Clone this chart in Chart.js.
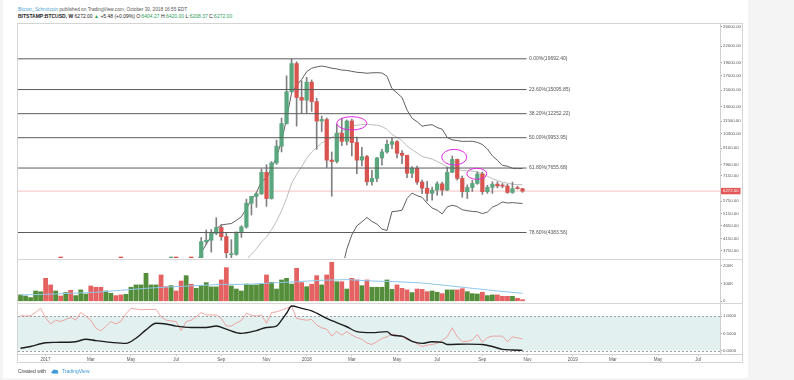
<!DOCTYPE html>
<html><head><meta charset="utf-8">
<script src="https://cdn.jsdelivr.net/npm/chart.js@4.4.0/dist/chart.umd.min.js"></script>
<style>
html,body{margin:0;padding:0;width:794px;height:380px;overflow:hidden;background:#f4f4f4;font-family:"Liberation Sans",Arial,sans-serif;}
.abs{position:absolute;}
#card{left:3px;top:0;width:745px;height:378px;background:#fff;}
.txt{white-space:nowrap;transform-origin:0 0;line-height:1;}
.g{color:#2e9e5b;}
.ln{background:#cfcfcf;}
canvas{position:absolute;}
</style></head><body>
<div id="card" class="abs"></div>
<div class="abs txt" style="left:18px;top:6.8px;font-size:9.5px;transform:scale(0.5);color:#555;">
<span style="color:#4f9fd6">Bitcoin_Schmitcoin</span> published on TradingView.com, October 30, 2018 16:55 EDT</div>
<div class="abs txt" style="left:18px;top:14.2px;font-size:10px;transform:scale(0.5);color:#222;">
<b>BITSTAMP:BTCUSD, W</b> 6272.00 <span class="g">&#9650;</span> +5.48 (+0.09%) O:<span class="g">6404.27</span> H:<span class="g">6420.00</span> L:<span class="g">6208.37</span> C:<span class="g">6272.00</span></div>

<canvas id="cMain" width="727" height="236" style="left:17px;top:23px"></canvas>
<canvas id="cVol" width="727" height="44" style="left:17px;top:260px"></canvas>
<canvas id="cOsc" width="727" height="60" style="left:17px;top:304px"></canvas>

<div class="abs" style="left:17px;top:23px;width:726px;height:340px;border:1px solid #d4d4d4;box-sizing:border-box;"></div>
<div class="abs ln" style="left:720px;top:23px;width:1px;height:331px;"></div>
<div class="abs ln" style="left:17px;top:258.5px;width:726px;height:1.5px;background:#d6d6d6"></div>
<div class="abs ln" style="left:17px;top:302.8px;width:726px;height:1.5px;background:#d6d6d6"></div>
<div class="abs ln" style="left:17px;top:354px;width:726px;height:1px;"></div>

<div class="abs txt" style="left:18px;top:368.5px;font-size:10px;transform:scale(0.5);color:#444;">Created with</div>
<svg class="abs" style="left:51px;top:368px" width="8" height="6" viewBox="0 0 8 6"><path d="M1.5 5.5 C0 5.5 0 3.2 1.6 3.2 C1.8 1.4 4 0.8 4.8 2.2 C6.6 1.6 7.6 3.4 6.8 4.2 C8 4.6 7.4 5.5 6.6 5.5 Z" fill="#3a9ad9"/></svg>
<div class="abs txt" style="left:61.5px;top:368.5px;font-size:10px;transform:scale(0.5);color:#3a9ad9;">TradingView</div>

<script>
// ---------- data (weekly, index 0 = week of 2016-11-28) ----------
const opens  = [729,765,778,790,900,995,905,820,920,915,1010,1000,1050,1170,1260,1240,1060,1040,1080,1200,1260,1250,1420,1700,1780,2050,2200,2520,2660,2600,2460,2520,2500,1930,2750,2730,3230,4050,4100,4350,4580,4230,3620,3630,4400,4600,5650,5990,6120,7380,5880,8000,9250,11250,14800,18900,14100,13770,16100,13600,11500,11650,8200,8100,10350,9650,11500,9550,8200,8450,6800,7000,8350,8800,9400,9620,8700,8550,7320,7640,6780,6430,6150,6330,6680,6330,7380,8250,7000,6240,6470,6700,7270,6240,6480,6660,6560,6550,6200,6410,6404.27];
const highs  = [772,780,795,935,1000,1150,920,930,925,1040,1060,1060,1200,1290,1330,1260,1070,1100,1210,1210,1270,1430,1700,1800,2200,2780,2580,2980,2800,2800,2600,2620,2540,2900,2830,3340,4200,4480,4500,4980,4700,4380,4120,4400,4650,5850,6000,6200,7600,7880,8100,9750,11800,17000,19666,19200,16300,16800,16400,14000,12000,11800,8800,11200,11800,11600,11700,10000,9150,8550,7500,8400,9000,9750,9950,9700,8900,8550,7750,7780,6900,6830,6500,6800,6780,7700,8500,8280,7150,6620,6880,7400,7400,6600,6800,6800,6700,6650,6780,6550,6420];
const lows   = [725,750,768,788,880,880,750,820,880,910,940,990,1050,1150,1120,940,890,1020,1080,1160,1180,1250,1400,1600,1750,1900,2100,2500,2080,2450,2380,2450,1840,1900,2500,2620,3200,3950,3700,4300,4100,2980,3500,3600,4200,4550,5100,5450,6100,5500,5850,7900,8800,11200,14800,11000,12300,12300,12500,9000,10500,7700,6000,8000,9300,9350,8500,7300,7800,6600,6600,6800,7850,8700,9050,8350,7950,7050,7050,6650,6130,5760,5800,6050,6050,6300,7360,6900,5950,5880,6250,6650,6100,6150,6150,6450,6450,6150,6150,6380,6208.37];
const closes = [765,778,790,900,995,905,820,920,915,1010,1000,1050,1170,1230,1240,970,1040,1080,1180,1180,1250,1420,1700,1780,2050,2200,2520,2660,2600,2500,2480,2500,1930,2750,2730,3230,4050,4100,4350,4580,4230,3680,3630,4400,4600,5650,5990,6120,7380,5880,8000,9250,11250,14800,18900,14100,13770,16100,13600,11500,11650,8200,8100,10350,9650,11500,9550,8200,8450,6800,7000,8350,8800,9400,9620,8700,8550,7320,7640,6780,6430,6150,6330,6680,6330,7380,8250,7000,6240,6470,6700,7270,6240,6480,6660,6560,6550,6200,6410,6404.27,6272];
const volumesK = [36,30,21,58,54,129,92,58,30,49,62,32,64,41,86,79,79,58,45,32,36,39,79,92,92,157,92,92,148,82,88,58,114,144,96,73,88,105,81,81,120,189,86,69,58,97,92,92,96,148,107,69,120,129,97,185,105,82,96,144,92,148,219,110,110,69,129,120,88,120,79,79,79,120,67,92,73,64,49,69,67,54,58,51,43,64,64,64,71,54,43,41,51,32,36,36,28,28,28,17,9];
const volMaIdx = [0,5,10,15,20,25,30,35,40,45,50,55,60,65,70,75,80,85,90,95,100];
const volMaK   = [36,39,45,51,62,73,81,88,95,95,103,110,118,122,114,110,103,88,73,58,45];

const bbUpperStart = 35;
const bbUpper = [3348,3684,3961,4249,4531,4679,4711,4738,4868,5026,5405,5817,6193,6826,7010,7618,8443,9626,11736,14661,15653,16462,17613,18157,18364,18509,18357,18157,18047,17865,17818,17671,17529,17476,17380,17447,17468,17422,16937,15218,14657,14091,12646,11769,11432,10995,11087,11139,10870,10710,9975,9766,9709,9639,9649,9651,9559,9387,9027,8503,8183,7838,7778,7635,7620,7622];
const bbMidStart = 44;
const bbMid = [3286,3459,3632,3805,4044,4213,4489,4827,5293,5895,6704,7247,7733,8333,8796,9142,9513,9739,9962,10260,10512,10805,10983,11087,11140,11186,11136,11091,10969,10699,10235,9965,9704,9265,8967,8731,8470,8367,8279,8095,7929,7723,7658,7598,7488,7471,7456,7402,7274,7128,6980,6873,6773,6717,6656,6637,6629];
const bbLowerStart = 64;
const bbLower = [3159,3798,4294,4644,4804,4992,4825,4714,4515,4460,5251,5272,5316,5883,6165,6029,5944,5647,5418,5320,5148,5471,5550,5487,5336,5293,5261,5245,5161,5229,5457,5563,5708,5656,5676,5653,5636];

const oscRed = [1.01,1.00,1.01,1.10,1.22,0.95,0.77,0.88,0.84,0.90,0.96,0.88,1.10,1.00,0.88,0.65,0.57,0.70,0.84,0.77,0.85,1.06,1.22,1.20,1.18,1.19,1.19,1.19,0.98,0.88,0.86,0.84,0.58,0.84,0.88,0.98,1.10,1.03,1.03,1.03,0.93,0.71,0.71,0.80,0.87,1.08,1.02,1.00,1.03,0.79,1.10,1.12,1.17,1.22,1.29,0.93,0.90,0.88,0.90,0.74,0.66,0.62,0.42,0.55,0.45,0.55,0.45,0.38,0.33,0.22,0.18,0.26,0.35,0.40,0.48,0.45,0.40,0.32,0.28,0.20,0.12,0.16,0.18,0.21,0.30,0.40,0.66,0.40,0.26,0.27,0.31,0.47,0.24,0.38,0.42,0.42,0.42,0.26,0.40,0.37,0.34];
const oscBlackIdx = [0,2,5,7,11,13,15,18,21,23,25,27,29,31,34,37,39,41,44,47,49,51,52,53,54,56,58,61,65,67,70,73,74,76,78,80,82,84,85,89,92,94,96,98,100];
const oscBlack    = [0.07,0.12,0.23,0.24,0.26,0.33,0.29,0.24,0.21,0.36,0.60,0.79,0.77,0.71,0.67,0.67,0.71,0.62,0.50,0.58,0.67,0.71,0.88,1.08,1.29,1.22,1.15,0.93,0.69,0.55,0.52,0.55,0.45,0.42,0.27,0.21,0.26,0.24,0.18,0.19,0.18,0.12,0.04,0.02,0.01];
const oscBandHigh = 1, oscBandLow = 0;

const priceTicks = [26000,22000,19000,17000,15000,13000,11500,10300,9100,7900,7150,5750,5150,4650,4150,3750];
const volTicks = [0,100000,200000];
const oscTicks = [0,0.5,1];
const fibLevels = [19692.40,15095.85,12252.22,9953.95,7655.68,4383.56];
const fibLabels = ['0.00%(19692.40)','23.60%(15095.85)','38.20%(12252.22)','50.00%(9953.95)','61.80%(7655.68)','78.60%(4383.56)'];
const fibEndIdx = 100.8;
const lastPrice = 6272;
const monthTickIdx = [5,14,22,31,40,49,57,66,75,83,92,101,110,118,127,135];
const monthTickLabels = ['2017','Mar','May','Jul','Sep','Nov','2018','Mar','May','Jul','Sep','Nov','2019','Mar','May','Jul'];
const ellipseIdxFrom = [63.0,83.9,88.9];
const ellipseIdxTo   = [69.0,88.9,92.9];
const ellipseLow     = [10640,7860,6945];
const ellipseHigh    = [11940,9000,7640];

// ---------- styles ----------
const FONT = '"Liberation Sans", Arial, sans-serif';
Chart.defaults.font.family = FONT;
Chart.defaults.animation = false;
const UP = '#5aa77f', DOWN = '#d9534f', WICK = '#808080';
const VUP = '#558e3b', VDOWN = '#e46262';
const xMin = -0.5, xMax = 139.34;
const idx = closes.map((_, i) => i);

function xScale(display){
  return {type:'linear', min:xMin, max:xMax, offset:false, display:display,
    grid:{display:false}, border:{display:false}};
}
function yAxis(extra){
  return Object.assign({position:'right',
    afterFit: s => { s.width = 23; s.paddingTop = 0; s.paddingBottom = 0; },
    ticks:{autoSkip:false, padding:1, font:{size:4.3}, color:'#555'},
    grid:{drawOnChartArea:false, drawTicks:true, tickLength:2, color:'#9a9a9a'},
    border:{display:false}}, extra);
}
const commonOpts = {responsive:false, animation:false, events:[],
  plugins:{legend:{display:false}, tooltip:{enabled:false}}};

// ---------- main chart ----------
const mainPlugin = {
  id:'mainExtras',
  afterDatasetsDraw(chart){
    const {ctx, scales:{x, y}} = chart;
    ctx.save();
    ctx.font = '5px ' + FONT;
    ctx.fillStyle = '#555';
    ctx.textBaseline = 'middle';
    fibLevels.forEach((lv, k) => {
      ctx.fillText(fibLabels[k], x.getPixelForValue(fibEndIdx) + 2.5, y.getPixelForValue(lv));
    });
    ctx.strokeStyle = '#e02be0';
    ctx.lineWidth = 1;
    ellipseIdxFrom.forEach((a, k) => {
      const x0 = x.getPixelForValue(a), x1 = x.getPixelForValue(ellipseIdxTo[k]);
      const y0 = y.getPixelForValue(ellipseHigh[k]), y1 = y.getPixelForValue(ellipseLow[k]);
      ctx.beginPath();
      ctx.ellipse((x0+x1)/2, (y0+y1)/2, (x1-x0)/2, (y1-y0)/2, 0, 0, Math.PI*2);
      ctx.stroke();
    });
    ctx.restore();
  },
  afterDraw(chart){
    const {ctx, scales:{y}, chartArea} = chart;
    const py = y.getPixelForValue(lastPrice);
    ctx.save();
    ctx.fillStyle = '#e25656';
    ctx.fillRect(chartArea.right + 0.5, py - 3.2, 20, 6.4);
    ctx.fillStyle = '#fff';
    ctx.font = '4.3px ' + FONT;
    ctx.textBaseline = 'middle';
    ctx.fillText(lastPrice.toFixed(2), chartArea.right + 3, py);
    ctx.restore();
  }
};

const mainDatasets = [
  {type:'bar', data: idx.map(i => ({x:i, y:[lows[i], highs[i]]})), backgroundColor: WICK,
   barThickness:1, grouped:false, order:3, clip:0},
  {type:'bar', data: idx.map(i => ({x:i, y:[opens[i], closes[i]]})),
   backgroundColor: idx.map(i => closes[i] >= opens[i] ? UP : DOWN),
   barThickness:3.6, minBarLength:1, grouped:false, order:2, clip:0},
  {type:'line', data: bbUpper.map((v,k) => ({x:bbUpperStart+k, y:v})), borderColor:'#4e4e4e', borderWidth:0.9, pointRadius:0, order:5, clip:0},
  {type:'line', data: bbLower.map((v,k) => ({x:bbLowerStart+k, y:v})), borderColor:'#4e4e4e', borderWidth:0.9, pointRadius:0, order:5, clip:0},
  {type:'line', data: bbMid.map((v,k) => ({x:bbMidStart+k, y:v})), borderColor:'#b4b4b4', borderWidth:0.9, pointRadius:0, order:5, clip:0},
  {type:'line', data: [{x:xMin, y:lastPrice}, {x:xMax, y:lastPrice}], borderColor:'#f4c0c0', borderWidth:1, pointRadius:0, order:6, clip:0}
];
fibLevels.forEach(lv => mainDatasets.push({type:'line', data:[{x:xMin, y:lv}, {x:fibEndIdx, y:lv}],
  borderColor:'#5c5c5c', borderWidth:1, pointRadius:0, order:1, clip:0}));

new Chart(document.getElementById('cMain'), {
  type:'bar',
  data:{datasets: mainDatasets},
  options: Object.assign({}, commonOpts, {
    layout:{padding:{left:1, right:1, top:0, bottom:1}},
    scales:{
      x: xScale(false),
      y: yAxis({type:'logarithmic', min:3516, max:26846,
        afterBuildTicks: s => { s.ticks = priceTicks.map(v => ({value:v})); },
        ticks:{autoSkip:false, padding:1, font:{size:4.3}, color:'#555', callback: v => Number(v).toFixed(2)}})
    }
  }),
  plugins:[mainPlugin]
});

// ---------- volume chart ----------
new Chart(document.getElementById('cVol'), {
  type:'bar',
  data:{datasets:[
    {type:'bar', data: volumesK.map((v,i) => ({x:i, y:v*1000})),
     backgroundColor: idx.map(i => closes[i] >= opens[i] ? VUP : VDOWN),
     barThickness:4.1, grouped:false, order:2, clip:0},
    {type:'line', data: volMaIdx.map((xv,k) => ({x:xv, y:volMaK[k]*1000})), borderColor:'#8ec7ec', borderWidth:1, pointRadius:0, order:1, clip:0}
  ]},
  options: Object.assign({}, commonOpts, {
    layout:{padding:{left:1, right:1, top:0, bottom:1}},
    scales:{
      x: xScale(false),
      y: yAxis({type:'linear', min:-9550, max:232000,
        afterBuildTicks: s => { s.ticks = volTicks.map(v => ({value:v})); },
        ticks:{autoSkip:false, padding:1, font:{size:4.3}, color:'#555', callback: v => v === 0 ? '0' : (v/1000) + 'K'}})
    }
  })
});

// ---------- oscillator chart ----------
const bandPlugin = {
  id:'band',
  beforeDatasetsDraw(chart){
    const {ctx, chartArea:a, scales:{y}} = chart;
    const y1 = y.getPixelForValue(oscBandHigh), y0 = y.getPixelForValue(oscBandLow);
    ctx.save();
    ctx.fillStyle = '#e2f1f0';
    ctx.fillRect(a.left, y1, a.right - a.left, y0 - y1);
    ctx.strokeStyle = '#a0a0a0';
    ctx.lineWidth = 1;
    ctx.setLineDash([2, 2]);
    [y1, y0].forEach(py => { ctx.beginPath(); ctx.moveTo(a.left, Math.round(py)+0.5); ctx.lineTo(a.right, Math.round(py)+0.5); ctx.stroke(); });
    ctx.restore();
  }
};
new Chart(document.getElementById('cOsc'), {
  type:'line',
  data:{datasets:[
    {data: oscRed.map((v,i) => ({x:i, y:v})), borderColor:'#ec8f8f', borderWidth:0.8, pointRadius:0, order:2, clip:0},
    {data: oscBlackIdx.map((xv,k) => ({x:xv, y:oscBlack[k]})), borderColor:'#1c1c1c', borderWidth:1.4, pointRadius:0, cubicInterpolationMode:'monotone', order:1, clip:0}
  ]},
  options: Object.assign({}, commonOpts, {
    layout:{padding:{left:1, right:1, top:0, bottom:1}},
    scales:{
      x: {type:'linear', min:xMin, max:xMax, offset:false, position:'bottom',
        afterBuildTicks: s => { s.ticks = monthTickIdx.map(v => ({value:v})); },
        afterFit: s => { s.height = 9; s.paddingLeft = 0; s.paddingRight = 0; },
        ticks:{autoSkip:false, maxRotation:0, minRotation:0, padding:1.5, font:{size:4.5}, color:'#555',
          callback:(v, i) => monthTickLabels[i]},
        grid:{drawOnChartArea:false, drawTicks:true, tickLength:1.5, color:'#9a9a9a'},
        border:{display:false}},
      y: yAxis({type:'linear', min:-0.095, max:1.346,
        afterBuildTicks: s => { s.ticks = oscTicks.map(v => ({value:v})); },
        ticks:{autoSkip:false, padding:1, font:{size:4.3}, color:'#555', callback: v => Number(v).toFixed(4)}})
    }
  }),
  plugins:[bandPlugin]
});
</script>
</body></html>
